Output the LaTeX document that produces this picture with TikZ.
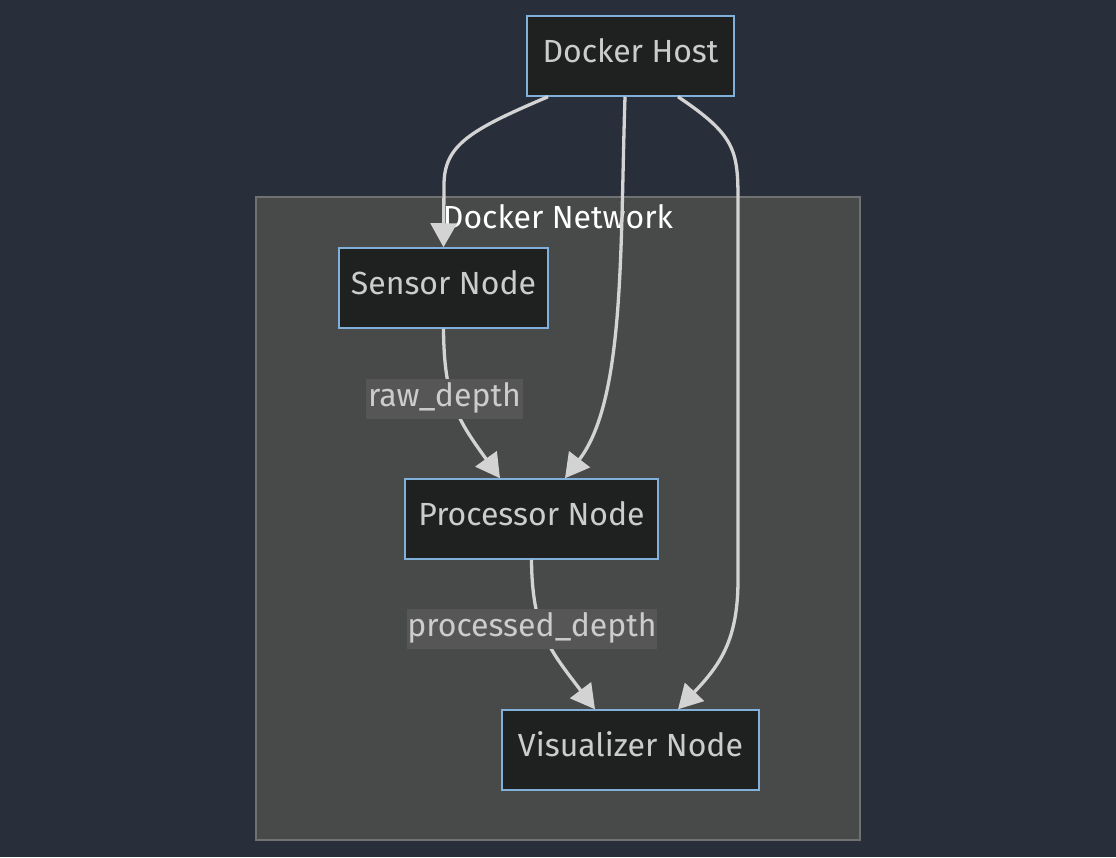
\documentclass[tikz,border=0pt]{standalone}
\usepackage{fontspec}
\setmainfont{Fira Sans}
\usetikzlibrary{arrows.meta,positioning}
\definecolor{pagebg}{RGB}{41,46,59}
\definecolor{netfill}{RGB}{72,73,73}
\definecolor{netline}{RGB}{112,114,114}
\definecolor{boxfill}{RGB}{31,32,32}
\definecolor{boxline}{RGB}{129,177,219}
\definecolor{boxtext}{RGB}{204,204,204}
\definecolor{flowcol}{RGB}{211,211,211}
\definecolor{tagfill}{RGB}{86,86,86}

\begin{document}
\begin{tikzpicture}[x=1pt, y=-1pt,
  box/.style={draw=boxline, line width=1.5pt, fill=boxfill, text=boxtext, font=\fontsize{32}{38}\selectfont, minimum height=80pt, inner xsep=0pt, text height=22pt, text depth=10pt},
  flow/.style={draw=flowcol, line width=3.3pt, -{Triangle[length=24pt,width=26pt]}},
  tag/.style={fill=tagfill, text=boxtext, font=\fontsize{32}{38}\selectfont, minimum height=40pt, inner xsep=0pt, inner ysep=0pt, text height=22pt, text depth=8pt}]
  \useasboundingbox (0,0) rectangle (1116,857);
  \fill[pagebg] (0,0) rectangle (1116,857);
  \draw[netline, fill=netfill, line width=2pt] (256,197) rectangle (860,840);
  \node[text=white, font=\fontsize{32}{38}\selectfont] (nettitle) at (558,217) {Docker Network};
  \node[box, minimum width=207pt] (host) at (630.5,56) {Docker Host};
  \node[box, minimum width=209pt] (sensor) at (443.5,288) {Sensor Node};
  \node[box, minimum width=253pt] (proc) at (531.5,519) {Processor Node};
  \node[box, minimum width=257pt] (vis) at (630.5,750) {Visualizer Node};
  \draw[flow] ([xshift=-82.5pt]host.south) .. controls (470,130) and (444,145) .. (444,185) -- (sensor.north);
  \draw[flow] ([xshift=-5.5pt]host.south) .. controls (620,250) and (625,400) .. ([xshift=33.5pt]proc.north);
  \draw[flow] ([xshift=47.5pt]host.south) .. controls (735,135) and (738,150) .. (738,200) -- (738,580) .. controls (738,640) and (720,665) .. ([xshift=47.5pt]vis.north);
  \draw[flow] (sensor.south) .. controls (444,400) and (458,420) .. ([xshift=-31.5pt]proc.north);
  \draw[flow] (proc.south) .. controls (532,630) and (550,650) .. ([xshift=-35.5pt]vis.north);
  \node[tag, minimum width=157pt] (rawtag) at (444.5,399) {raw\_depth};
  \node[tag, minimum width=248pt] (proctag) at (532,629) {processed\_depth};
\end{tikzpicture}
\end{document}
